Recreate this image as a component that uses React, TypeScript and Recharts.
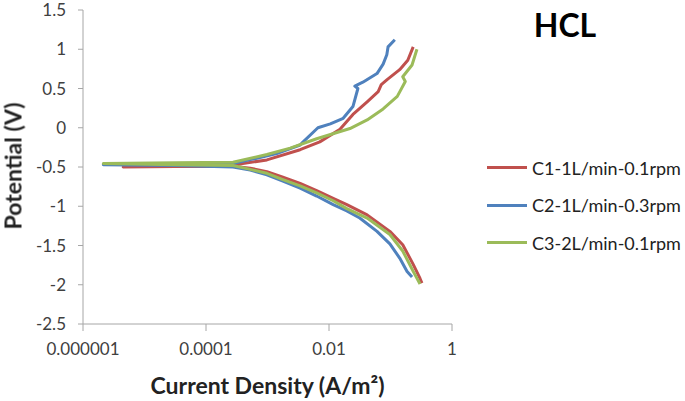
import { LineChart, Line, XAxis, YAxis } from 'recharts';

// Tafel curves: current density (A/m²) vs potential (V)
const C1_CURRENT = [
  0.324, 0.302, 0.234, 0.158, 0.0977, 0.0417, 0.0195, 0.0117, 0.0063, 0.00339, 0.00178, 0.000977, 0.000525, 0.000275,
  0.0000316, 0.0000045,
  0.0000316, 0.000275, 0.000977, 0.00339, 0.00708, 0.0151, 0.0245, 0.0417, 0.0631, 0.0708, 0.0871, 0.141, 0.191, 0.234,
];
const C1_POTENTIAL = [
  -1.98, -1.92, -1.74, -1.49, -1.32, -1.11, -0.98, -0.9, -0.8, -0.71, -0.63, -0.56, -0.515, -0.49,
  -0.495, -0.5,
  -0.49, -0.475, -0.41, -0.28, -0.18, -0.02, 0.17, 0.33, 0.46, 0.55, 0.61, 0.74, 0.86, 1.03,
];

const C2_CURRENT = [
  0.224, 0.186, 0.141, 0.0977, 0.0603, 0.0316, 0.0195, 0.0117, 0.0063, 0.00339, 0.00178, 0.000977, 0.000525, 0.000275,
  0.0000316, 0.00000214,
  0.0000316, 0.000275, 0.000575, 0.00141, 0.00339, 0.0038, 0.0066, 0.0105, 0.017, 0.0245, 0.0295, 0.0263, 0.0355,
  0.0603, 0.0759, 0.0871, 0.0912, 0.1175,
];
const C2_POTENTIAL = [
  -1.9, -1.83, -1.66, -1.48, -1.32, -1.15, -1.06, -0.98, -0.87, -0.77, -0.68, -0.6, -0.54, -0.5,
  -0.48, -0.47,
  -0.465, -0.455, -0.4, -0.33, -0.22, -0.18, 0.0, 0.05, 0.12, 0.27, 0.5, 0.53, 0.58,
  0.69, 0.81, 0.93, 1.03, 1.12,
];

const C3_CURRENT = [
  0.302, 0.234, 0.158, 0.0977, 0.0417, 0.0195, 0.0117, 0.0063, 0.00339, 0.00178, 0.000977, 0.000525, 0.000275,
  0.0000316, 0.00000214,
  0.0000316, 0.000275, 0.000977, 0.00234, 0.0063, 0.0219, 0.0417, 0.0759, 0.129, 0.174, 0.158, 0.224, 0.269,
];
const C3_POTENTIAL = [
  -1.99, -1.83, -1.57, -1.36, -1.15, -1.03, -0.93, -0.83, -0.74, -0.66, -0.58, -0.53, -0.48,
  -0.47, -0.455,
  -0.445, -0.44, -0.34, -0.26, -0.14, -0.01, 0.1, 0.24, 0.4, 0.59, 0.65, 0.8, 1.0,
];

const SERIES_NAMES = ['C1-1L/min-0.1rpm', 'C2-1L/min-0.3rpm', 'C3-2L/min-0.1rpm'];
const COLORS = ['#C0504D', '#4F81BD', '#9BBB59'];

const X_TICKS = [0.000001, 0.0001, 0.01, 1];
const X_TICK_LABELS = ['0.000001', '0.0001', '0.01', '1'];
const Y_TICKS = [-2.5, -2, -1.5, -1, -0.5, 0, 0.5, 1, 1.5];

const toPoints = (xs: number[], ys: number[]) => xs.map((x, i) => ({ x, y: ys[i] }));

const seriesData = [
  toPoints(C1_CURRENT, C1_POTENTIAL),
  toPoints(C2_CURRENT, C2_POTENTIAL),
  toPoints(C3_CURRENT, C3_POTENTIAL),
];

const FONT = 'Lato, "Open Sans", sans-serif';
const AXIS_COLOR = '#a6a6a6';

export default function App() {
  return (
    <div style={{ position: 'fixed', left: 0, top: 0, width: 685, height: 401, background: '#fff' }}>
      <LineChart width={685} height={401} margin={{ top: 10, right: 233, bottom: 0, left: 0 }}>
        <XAxis
          type="number"
          dataKey="x"
          scale="log"
          domain={[0.000001, 1]}
          ticks={X_TICKS}
          interval={0}
          allowDataOverflow
          tickFormatter={(v: number) => X_TICK_LABELS[X_TICKS.indexOf(v)] ?? String(v)}
          height={77}
          stroke={AXIS_COLOR}
          tickSize={7}
          tickMargin={12}
          tick={{ fontSize: 17, fill: '#404040', fontFamily: FONT }}
        />
        <YAxis
          type="number"
          dataKey="y"
          domain={[-2.5, 1.5]}
          ticks={Y_TICKS}
          interval={0}
          width={83}
          stroke={AXIS_COLOR}
          tickSize={5}
          tickMargin={12}
          tick={{ fontSize: 17, fill: '#404040', fontFamily: FONT }}
        />
        {seriesData.map((d, i) => (
          <Line
            key={SERIES_NAMES[i]}
            name={SERIES_NAMES[i]}
            data={d}
            dataKey="y"
            stroke={COLORS[i]}
            strokeWidth={3}
            strokeLinejoin="round"
            dot={false}
            isAnimationActive={false}
          />
        ))}
      </LineChart>
      <div style={{ position: 'absolute', left: 487, top: 149, fontFamily: FONT, fontSize: 18, color: '#222' }}>
        {SERIES_NAMES.map((name, i) => (
          <div key={name} style={{ display: 'flex', alignItems: 'center', height: 37.5 }}>
            <span style={{ display: 'inline-block', width: 40, height: 3, background: COLORS[i], marginRight: 5 }} />
            <span>{name}</span>
          </div>
        ))}
      </div>
      <div
        style={{
          position: 'absolute',
          left: 500,
          top: 5,
          width: 130,
          textAlign: 'center',
          fontFamily: FONT,
          fontWeight: 700,
          fontSize: 32,
          color: '#000',
        }}
      >
        HCL
      </div>
      <div
        style={{
          position: 'absolute',
          left: 0,
          top: 371,
          width: 535,
          textAlign: 'center',
          fontFamily: FONT,
          fontWeight: 700,
          fontSize: 23,
          color: '#222',
        }}
      >
        Current Density (A/m²)
      </div>
      <div
        style={{
          position: 'absolute',
          left: 13,
          top: 166,
          transform: 'translate(-50%, -50%) rotate(-90deg)',
          whiteSpace: 'nowrap',
          lineHeight: 1,
          fontFamily: FONT,
          fontWeight: 700,
          fontSize: 23,
          color: '#222',
        }}
      >
        Potential (V)
      </div>
    </div>
  );
}
